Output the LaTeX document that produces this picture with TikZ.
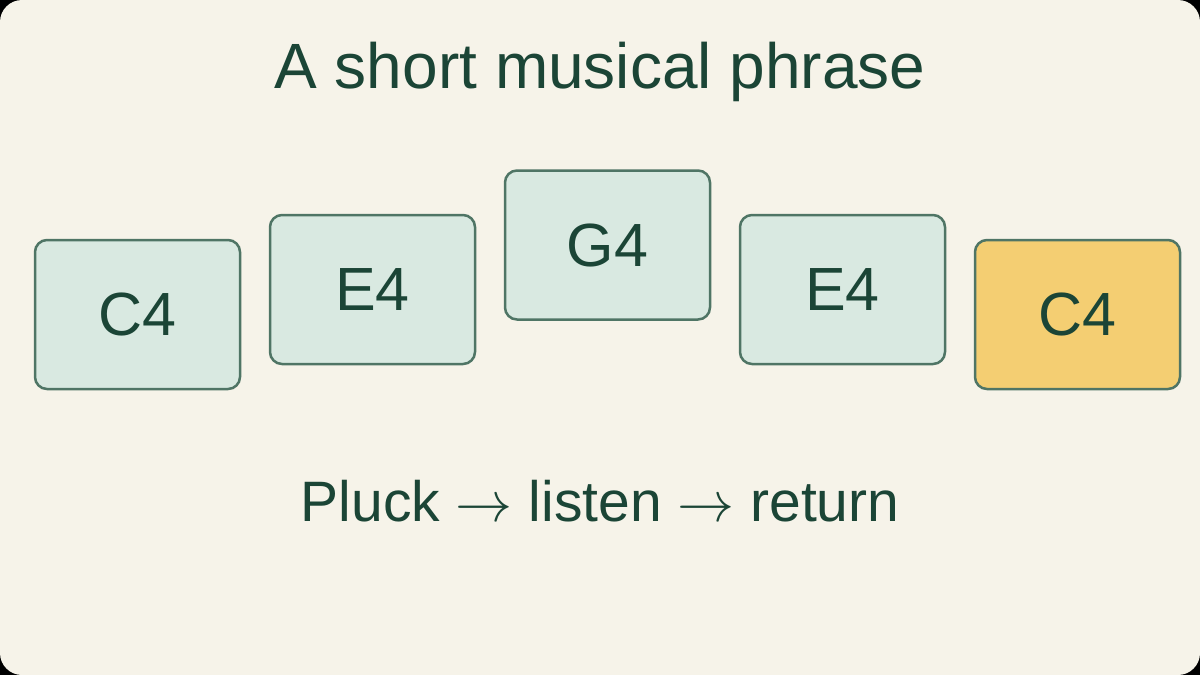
\documentclass[tikz,border=0pt]{standalone}
\usepackage{graphicx}
\usepackage{fontspec}
\setmainfont{Liberation Sans}
\definecolor{bg}{HTML}{F6F3E9}
\definecolor{ink}{HTML}{1B4536}
\definecolor{edge}{HTML}{4F7565}
\definecolor{mint}{HTML}{D9E9E1}
\definecolor{gold}{HTML}{F4CE72}
\newcommand\myarrow{\scalebox{5.7}{\normalsize$\rightarrow$}}
\tikzset{
  note/.style={draw=edge, line width=2.5pt, fill=mint, rounded corners=12pt,
    minimum width=205pt, minimum height=149pt, inner sep=0pt, text=ink,
    font=\fontsize{61}{72}\selectfont},
  last/.style={note, fill=gold},
  label/.style={text=ink, inner sep=0pt, anchor=base}
}
\begin{document}
\begin{tikzpicture}[x=1pt,y=-1pt]
\useasboundingbox (0,0) rectangle (1200,675);
\fill[black] (0,0) rectangle (1200,675);
\fill[bg, rounded corners=22pt] (0,0) rectangle (1200,675);
\node[label, font=\fontsize{64}{76}\selectfont] (title) at (600,88) {A short musical phrase};
\node[note] (n1) at (137.5,314.5) {C4};
\node[note] (n2) at (372.5,289.5) {E4};
\node[note] (n3) at (607.5,245) {G4};
\node[note] (n4) at (842.5,289.5) {E4};
\node[last] (n5) at (1077.5,314.5) {C4};
\node[label, font=\fontsize{57}{68}\selectfont] (foot) at (600,521) {Pluck \myarrow{} listen \myarrow{} return};
\end{tikzpicture}
\end{document}
